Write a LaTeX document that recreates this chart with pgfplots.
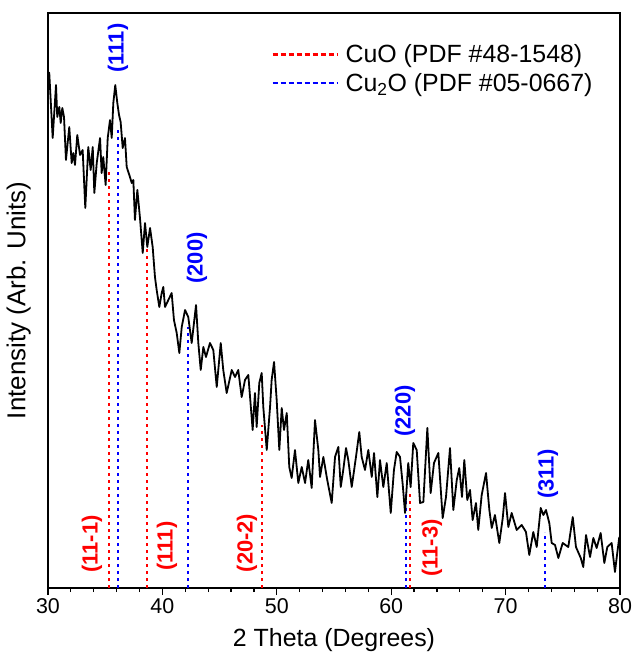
\documentclass[border=0pt]{standalone}
\usepackage{fontspec}
\setmainfont{Liberation Sans}
\setmathrm{Liberation Sans}
\usepackage{pgfplots}
\usepackage{pgfplotstable}
\pgfplotsset{compat=1.18}

% XRD pattern (2theta in degrees, intensity in arbitrary units)
\pgfplotstableread{
theta I
30.00 516
30.11 515
30.41 450
30.70 503
30.81 471
30.99 481
31.11 465
31.25 480
31.40 471
31.57 428
31.86 461
32.07 425
32.21 435
32.36 423
32.56 453
32.80 433
33.03 438
33.26 380
33.52 441
33.73 418
33.91 441
34.05 395
34.26 425
34.55 450
34.69 415
34.83 431
35.04 403
35.22 450
35.42 468
35.57 450
35.71 485
35.88 503
36.06 485
36.21 473
36.35 466
36.53 440
36.73 450
36.88 421
37.11 413
37.32 405
37.46 408
37.60 368
37.81 398
38.04 370
38.28 335
38.48 365
38.68 341
38.92 360
39.15 341
39.35 311
39.50 298
39.73 281
39.94 295
40.08 301
40.23 281
40.52 288
40.81 295
41.01 268
41.25 255
41.48 235
41.69 261
41.98 278
42.26 271
42.56 245
42.94 283
43.14 245
43.35 218
43.58 241
43.81 231
44.16 245
44.45 238
44.75 201
45.10 245
45.32 218
45.62 195
46.06 218
46.35 211
46.63 218
46.93 191
47.22 208
47.51 213
47.89 158
48.09 195
48.24 161
48.47 205
48.68 215
48.82 181
49.12 138
49.41 181
49.55 208
49.76 226
49.99 188
50.22 138
50.43 180
50.63 158
50.87 175
51.09 121
51.30 110
51.59 138
51.88 105
52.18 121
52.47 105
52.75 128
53.05 100
53.34 168
53.63 138
53.78 111
54.07 131
54.41 108
54.80 85
55.09 131
55.38 141
55.59 101
55.81 118
56.05 140
56.25 128
56.55 101
56.92 131
57.21 156
57.42 131
57.71 118
58.00 138
58.30 111
58.50 135
58.79 91
59.02 128
59.31 101
59.61 125
59.96 75
60.24 118
60.48 136
60.77 131
61.01 103
61.21 75
61.49 125
61.70 101
61.93 145
62.23 138
62.52 85
62.81 86
63.16 160
63.45 95
63.74 125
64.12 135
64.50 70
64.79 91
65.14 140
65.43 78
65.73 108
65.95 120
66.19 91
66.39 128
66.65 88
66.89 98
67.12 68
67.41 85
67.61 58
67.91 93
68.29 115
68.58 78
68.79 60
69.07 73
69.45 45
69.75 70
69.95 95
70.24 61
70.53 75
70.97 58
71.41 63
71.78 56
72.07 33
72.42 56
72.72 41
73.07 80
73.30 73
73.53 78
73.82 65
74.03 45
74.32 43
74.61 30
74.99 45
75.48 41
75.87 71
76.15 41
76.57 30
76.79 21
77.03 53
77.38 31
77.67 50
77.96 40
78.31 55
78.63 25
78.89 41
79.27 45
79.56 16
79.76 35
79.94 51
}\xrd

\begin{document}
\begin{tikzpicture}
\useasboundingbox (-48bp,-67bp) rectangle (585bp,588bp);
\begin{axis}[
  scale only axis,
  width=572bp, height=575bp,
  xmin=30, xmax=80, ymin=0, ymax=575,
  xtick={30,40,...,80},
  minor x tick num=4,
  ytick=\empty,
  xtick pos=bottom,
  tick align=outside,
  major tick length=7bp,
  minor tick length=4bp,
  every tick/.style={black, line width=1.2bp},
  axis line style={line width=1.4bp},
  /pgf/number format/assume math mode=true,
  ticklabel style={font=\fontsize{21.5}{25}\selectfont},
  xlabel={2 Theta (Degrees)},
  ylabel={Intensity (Arb. Units)},
  xlabel style={font=\fontsize{25}{29}\selectfont,
    at={(axis description cs:0.5,0)}, anchor=north, yshift=-37bp},
  ylabel style={font=\fontsize{26}{30}\selectfont,
    at={(axis description cs:-0.024,0.5)}, anchor=south},
  legend style={at={(0.385,0.952)}, anchor=north west, draw=none, fill=none,
    font=\fontsize{25}{29}\selectfont, row sep=5bp, column sep=5bp},
  legend cell align=left,
  legend image code/.code={\draw[#1, line width=2.2bp] (0bp,0bp) -- (65bp,0bp);},
]
\addlegendimage{red, dash pattern=on 5bp off 3bp}
\addlegendentry{CuO (PDF \#48-1548)}
\addlegendimage{blue, dash pattern=on 5bp off 3bp}
\addlegendentry{Cu$_\mathrm{2}$O (PDF \#05-0667)}

% reference reflections
\addplot[red, ycomb, mark=none, line width=2bp, dash pattern=on 3bp off 4bp, forget plot]
  coordinates {(35.30,418) (38.67,340) (48.73,163) (61.65,95)};
\addplot[blue, ycomb, mark=none, line width=2bp, dash pattern=on 3bp off 4bp, forget plot]
  coordinates {(36.08,458) (42.28,261) (61.30,96) (73.45,56)};

% measured pattern
\addplot[black, line width=1.8bp, mark=none, line join=round, forget plot] table[x=theta, y=I] {\xrd};

% Miller indices
\begin{scope}[every node/.style={rotate=90, font=\bfseries\fontsize{22}{25}\selectfont}]
\node[text=blue] at (axis cs:36.12,540) {(111)};
\node[text=blue] at (axis cs:43.02,330) {(200)};
\node[text=blue] at (axis cs:61.21,177) {(220)};
\node[text=blue] at (axis cs:73.71,114) {(311)};
\node[text=red] at (axis cs:33.85,44) {(11-1)};
\node[text=red] at (axis cs:40.40,42) {(111)};
\node[text=red] at (axis cs:47.40,45) {(20-2)};
\node[text=red] at (axis cs:63.57,40) {(11-3)};
\end{scope}
\end{axis}
\end{tikzpicture}
\end{document}
